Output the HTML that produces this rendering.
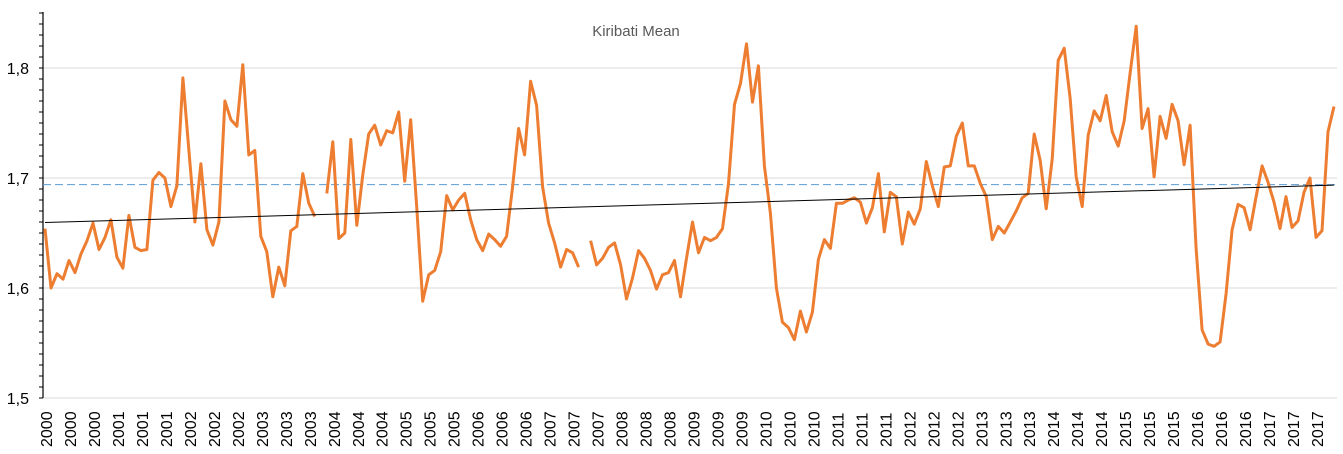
<!DOCTYPE html>
<html><head><meta charset="utf-8"><style>
html,body{margin:0;padding:0;background:#fff;}
svg{display:block;font-family:"Liberation Sans",sans-serif;}
</style></head><body>
<svg id="chart" width="1343" height="454" viewBox="0 0 1343 454" xmlns="http://www.w3.org/2000/svg">
<text x="636" y="36" text-anchor="middle" font-size="15" fill="#595959">Kiribati Mean</text>
<g id="grid"></g><g id="axes"></g><g id="series"></g>
</svg>
<script>
const values = [1.654,1.600,1.613,1.608,1.625,1.614,1.631,1.643,1.659,1.635,1.646,1.662,1.628,1.618,1.666,1.637,1.634,1.635,1.698,1.705,1.700,1.674,1.693,1.791,1.725,1.660,1.713,1.653,1.639,1.660,1.770,1.753,1.747,1.803,1.721,1.725,1.647,1.633,1.592,1.619,1.602,1.652,1.656,1.704,1.677,1.665,null,1.686,1.733,1.645,1.650,1.735,1.657,1.703,1.740,1.748,1.730,1.743,1.741,1.760,1.697,1.753,1.674,1.588,1.612,1.616,1.633,1.684,1.671,1.680,1.686,1.662,1.644,1.634,1.649,1.644,1.638,1.647,1.692,1.745,1.721,1.788,1.766,1.692,1.659,1.641,1.619,1.635,1.632,1.619,null,1.643,1.621,1.627,1.637,1.641,1.621,1.590,1.609,1.634,1.627,1.616,1.599,1.612,1.614,1.625,1.592,1.627,1.660,1.632,1.646,1.643,1.646,1.654,1.695,1.767,1.786,1.822,1.769,1.802,1.711,1.668,1.600,1.569,1.564,1.553,1.579,1.560,1.578,1.626,1.644,1.636,1.677,1.677,1.680,1.682,1.678,1.659,1.673,1.704,1.651,1.687,1.683,1.640,1.669,1.658,1.672,1.715,1.693,1.674,1.710,1.711,1.738,1.750,1.711,1.711,1.695,1.683,1.644,1.656,1.650,1.660,1.670,1.682,1.686,1.740,1.716,1.672,1.717,1.807,1.818,1.772,1.701,1.674,1.739,1.761,1.752,1.775,1.742,1.729,1.752,1.796,1.838,1.745,1.763,1.701,1.756,1.736,1.767,1.752,1.712,1.748,1.636,1.562,1.549,1.547,1.551,1.595,1.653,1.676,1.673,1.653,1.683,1.711,1.696,1.678,1.654,1.683,1.655,1.661,1.687,1.700,1.646,1.652,1.742,1.765];
const startYear = [2000];
const yTicks = [1.5,1.6,1.7,1.8];
const yTickLabels = ["1,5","1,6","1,7","1,8"];
const refLine = [1.694];
const trendEnds = [1.6595,1.6935];

const NS="http://www.w3.org/2000/svg";
const yMin=1.5,yMax=1.85,yBot=398,yPer=1100;
const xFirst=45,xLast=1334;
function y(v){return yBot-(v-yMin)*yPer;}
function x(i){return xFirst+(xLast-xFirst)*i/(values.length-1);}
function mk(tag,attrs,parent){const e=document.createElementNS(NS,tag);for(const k in attrs)e.setAttribute(k,attrs[k]);parent.appendChild(e);return e;}
const grid=document.getElementById('grid'),axes=document.getElementById('axes'),series=document.getElementById('series');

yTicks.forEach((t,k)=>{
  const l=mk('line',{x1:43,x2:1337,y1:y(t),y2:y(t),stroke:'#d9d9d9','stroke-width':1},grid);
  
  
  const tx=mk('text',{x:29,y:y(t)+6,'text-anchor':'end','font-size':16,fill:'#000'},axes);
  tx.textContent=yTickLabels[k];
  
  
});
const ax=mk('line',{x1:43,x2:43,y1:12,y2:398,stroke:'#000','stroke-width':1.2},axes);


for(let v=yMin;v<=yMax+1e-9;v+=0.01){
  const tk=mk('line',{x1:39,x2:43,y1:y(v),y2:y(v),stroke:'#000','stroke-width':1},axes);
  
  
}
for(let i=0;i<values.length;i+=4){
  const lx=x(i)+1;
  const tx=mk('text',{x:0,y:0,'font-size':16,fill:'#000',transform:`translate(${lx+6},447) rotate(-90)`},axes);
  tx.textContent=String(startYear[0]+Math.floor(i/12));
  
  
}
const rl=mk('line',{x1:43,x2:1337,y1:y(refLine[0]),y2:y(refLine[0]),stroke:'#5B9BD5','stroke-width':1,'stroke-dasharray':'8,4'},series);


let d='',pen=false;
values.forEach((v,i)=>{ if(v==null){pen=false;return;} d+=(pen?'L':'M')+x(i).toFixed(1)+' '+y(v).toFixed(1)+' '; pen=true;});
const p=mk('path',{d:d,fill:'none',stroke:'#ED7D31','stroke-width':3,'stroke-linejoin':'round'},series);


const tl=mk('line',{x1:x(0),x2:x(values.length-1),y1:y(trendEnds[0]),y2:y(trendEnds[1]),stroke:'#000','stroke-width':1},series);


</script>
</body></html>
